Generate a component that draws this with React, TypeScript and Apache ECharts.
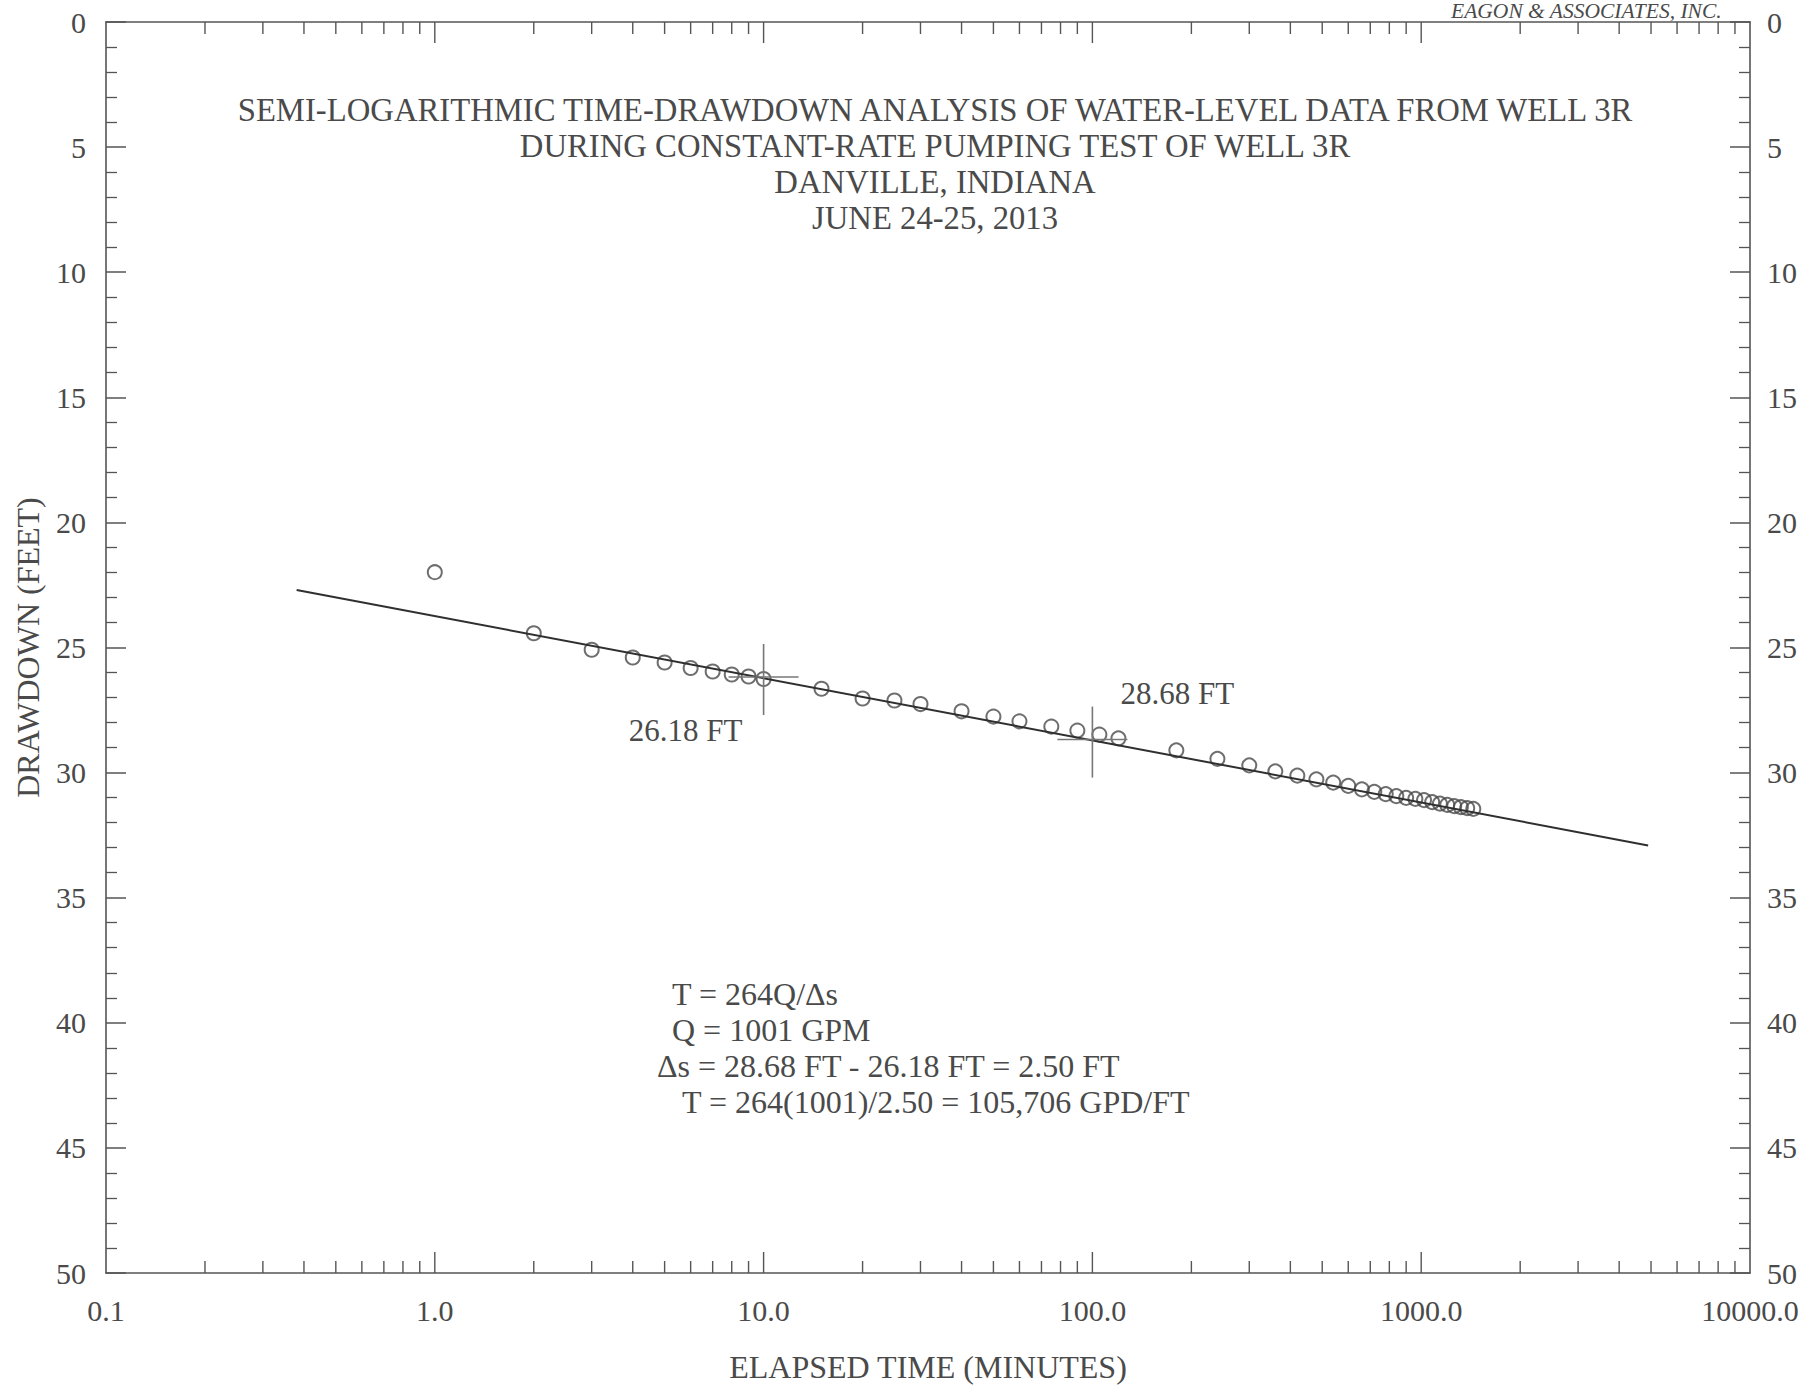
import React, { useEffect, useRef } from 'react';
import * as echarts from 'echarts';

// ---- data ----
const elapsedMinutes = [1, 2, 3, 4, 5, 6, 7, 8, 9, 10, 15, 20, 25, 30, 40, 50, 60, 75, 90, 105, 120, 180, 240, 300, 360, 420, 480, 540, 600, 660, 720, 780, 840, 900, 960, 1020, 1080, 1140, 1200, 1260, 1320, 1380, 1440];
const drawdownFeet = [21.99, 24.43, 25.09, 25.4, 25.6, 25.82, 25.96, 26.08, 26.16, 26.26, 26.65, 27.04, 27.12, 27.26, 27.55, 27.76, 27.95, 28.16, 28.32, 28.48, 28.63, 29.11, 29.45, 29.71, 29.95, 30.12, 30.27, 30.4, 30.53, 30.67, 30.77, 30.86, 30.94, 31.01, 31.05, 31.1, 31.18, 31.24, 31.29, 31.34, 31.38, 31.42, 31.45];

const fitLineTime = [0.38, 4900];
const fitLineDrawdown = [22.7, 32.91];

const markTime = [10, 100];
const markDrawdown = [26.18, 28.68];
const markLabels = ['26.18 FT', '28.68 FT'];

const majorTimeTicks = [1, 10, 100, 1000];
const minorTimeTicks = [
  0.2, 0.3, 0.4, 0.5, 0.6, 0.7, 0.8, 0.9,
  2, 3, 4, 5, 6, 7, 8, 9,
  20, 30, 40, 50, 60, 70, 80, 90,
  200, 300, 400, 500, 600, 700, 800, 900,
  2000, 3000, 4000, 5000, 6000, 7000, 8000, 9000,
];

const titleLines = [
  'SEMI-LOGARITHMIC TIME-DRAWDOWN ANALYSIS OF WATER-LEVEL DATA FROM WELL 3R',
  'DURING CONSTANT-RATE PUMPING TEST OF WELL 3R',
  'DANVILLE, INDIANA',
  'JUNE 24-25, 2013',
];

const formulaLines = [
  'T = 264Q/\u0394s',
  'Q = 1001 GPM',
  '\u0394s = 28.68 FT - 26.18 FT = 2.50 FT',
  'T = 264(1001)/2.50 = 105,706 GPD/FT',
];

const companyText = 'EAGON & ASSOCIATES, INC.';
const xAxisTitle = 'ELAPSED TIME (MINUTES)';
const yAxisTitle = 'DRAWDOWN (FEET)';

// ---- styling / layout ----
const FONT = "'Liberation Serif', 'Times New Roman', 'DejaVu Serif', serif";
const TEXT = '#4a4a4a';
const AXIS = '#555555';
const formulaX = [672, 672, 657, 682];
const formulaY = [994, 1030, 1066, 1102];
const markLabelOffsets = [[-78, 53], [85, -46]];

export default function App() {
  const ref = useRef<HTMLDivElement>(null);

  useEffect(() => {
    if (!ref.current) return;
    const chart = echarts.init(ref.current, undefined, { renderer: 'svg' });

    const tickLabelStyle = { fontFamily: FONT, fontSize: 30, color: TEXT };
    const lineStyle = { color: AXIS, width: 1.6 };

    const tickSeries = (values: number[], len: number, name: string) => ({
      type: 'custom',
      name,
      xAxisIndex: 0,
      yAxisIndex: 0,
      silent: true,
      data: values.map((v) => [v, 50]),
      encode: { x: 0, y: 1 },
      renderItem: (_p: any, api: any) => {
        const v = api.value(0);
        const b = api.coord([v, 50]);
        const t = api.coord([v, 0]);
        const st = { stroke: AXIS, lineWidth: 1.4 };
        return {
          type: 'group',
          children: [
            { type: 'line', shape: { x1: b[0], y1: b[1], x2: b[0], y2: b[1] - len }, style: st },
            { type: 'line', shape: { x1: t[0], y1: t[1], x2: t[0], y2: t[1] + len }, style: st },
          ],
        };
      },
    });

    const option: any = {
      animation: false,
      backgroundColor: '#ffffff',
      title: {
        text: titleLines.join('\n'),
        left: 930,
        top: 87,
        textAlign: 'center',
        textStyle: { fontFamily: FONT, fontSize: 32.7, fontWeight: 'normal', color: TEXT, lineHeight: 36 },
      },
      grid: { left: 106, top: 22, right: 68, bottom: 110, containLabel: false },
      xAxis: [
        {
          type: 'log',
          logBase: 10,
          min: 0.1,
          max: 10000,
          position: 'bottom',
          name: xAxisTitle,
          nameLocation: 'middle',
          nameGap: 78,
          nameTextStyle: { fontFamily: FONT, fontSize: 32, color: TEXT },
          axisLine: { show: true, onZero: false, lineStyle },
          axisTick: { show: false },
          axisLabel: { ...tickLabelStyle, margin: 22, formatter: (v: number) => Number(v).toFixed(1) },
          splitLine: { show: false },
        },
        {
          type: 'log',
          logBase: 10,
          min: 0.1,
          max: 10000,
          position: 'top',
          axisLine: { show: true, onZero: false, lineStyle },
          axisTick: { show: false },
          axisLabel: { show: false },
          splitLine: { show: false },
        },
      ],
      yAxis: [
        {
          type: 'value',
          inverse: true,
          min: 0,
          max: 50,
          interval: 5,
          position: 'left',
          name: yAxisTitle,
          nameLocation: 'middle',
          nameRotate: 90,
          nameGap: 62,
          nameTextStyle: { fontFamily: FONT, fontSize: 32, color: TEXT },
          axisLine: { show: true, onZero: false, lineStyle },
          axisTick: { show: true, inside: true, length: 20, lineStyle: { color: AXIS, width: 1.5 } },
          minorTick: { show: true, splitNumber: 5, length: 11, lineStyle: { color: AXIS, width: 1.3 } },
          axisLabel: { ...tickLabelStyle, margin: 20 },
          splitLine: { show: false },
        },
        {
          type: 'value',
          inverse: true,
          min: 0,
          max: 50,
          interval: 5,
          position: 'right',
          axisLine: { show: true, onZero: false, lineStyle },
          axisTick: { show: true, inside: true, length: 20, lineStyle: { color: AXIS, width: 1.5 } },
          minorTick: { show: true, splitNumber: 5, length: 11, lineStyle: { color: AXIS, width: 1.3 } },
          axisLabel: { ...tickLabelStyle, margin: 17 },
          splitLine: { show: false },
        },
      ],
      graphic: [
        {
          type: 'text',
          right: 96,
          top: 0,
          style: {
            text: companyText,
            fontFamily: FONT,
            fontSize: 21.5,
            fontStyle: 'italic',
            fill: TEXT,
          },
        },
        ...formulaLines.map((t, i) => ({
          type: 'text',
          x: formulaX[i],
          y: formulaY[i],
          style: {
            text: t,
            fontFamily: FONT,
            fontSize: 32,
            fill: TEXT,
            align: 'left',
            textAlign: 'left',
            verticalAlign: 'middle',
            textVerticalAlign: 'middle',
          },
        })),
      ],
      series: [
        tickSeries(minorTimeTicks, 12, 'minor ticks'),
        tickSeries(majorTimeTicks, 21, 'major ticks'),
        {
          type: 'scatter',
          name: 'Drawdown',
          xAxisIndex: 0,
          yAxisIndex: 0,
          data: elapsedMinutes.map((t, i) => [t, drawdownFeet[i]]),
          symbol: 'circle',
          symbolSize: 14,
          itemStyle: { color: 'rgba(0,0,0,0)', borderColor: '#4a4a4a', borderWidth: 2 },
          z: 3,
        },
        {
          type: 'line',
          name: 'Fit',
          xAxisIndex: 0,
          yAxisIndex: 0,
          data: fitLineTime.map((t, i) => [t, fitLineDrawdown[i]]),
          showSymbol: false,
          symbol: 'none',
          lineStyle: { color: '#2f2f2f', width: 2 },
          z: 4,
        },
        {
          type: 'custom',
          name: 'Marks',
          xAxisIndex: 0,
          yAxisIndex: 0,
          data: markTime.map((t, i) => [t, markDrawdown[i]]),
          encode: { x: 0, y: 1 },
          z: 5,
          renderItem: (params: any, api: any) => {
            const p = api.coord([api.value(0), api.value(1)]);
            const off = markLabelOffsets[params.dataIndex];
            const st = { stroke: '#777', lineWidth: 1.6 };
            return {
              type: 'group',
              children: [
                { type: 'line', shape: { x1: p[0], y1: p[1] - 33, x2: p[0], y2: p[1] + 38 }, style: st },
                { type: 'line', shape: { x1: p[0] - 35, y1: p[1], x2: p[0] + 35, y2: p[1] }, style: st },
                {
                  type: 'text',
                  x: p[0] + off[0],
                  y: p[1] + off[1],
                  style: {
                    text: markLabels[params.dataIndex],
                    fontFamily: FONT,
                    fontSize: 31,
                    fill: TEXT,
                    align: 'center',
                    verticalAlign: 'middle',
                  },
                },
              ],
            };
          },
        },
      ],
    };

    chart.setOption(option);
    return () => chart.dispose();
  }, []);

  return (
    <div
      ref={ref}
      style={{ position: 'fixed', left: 0, top: 0, width: 1818, height: 1388, background: '#fff' }}
    />
  );
}
